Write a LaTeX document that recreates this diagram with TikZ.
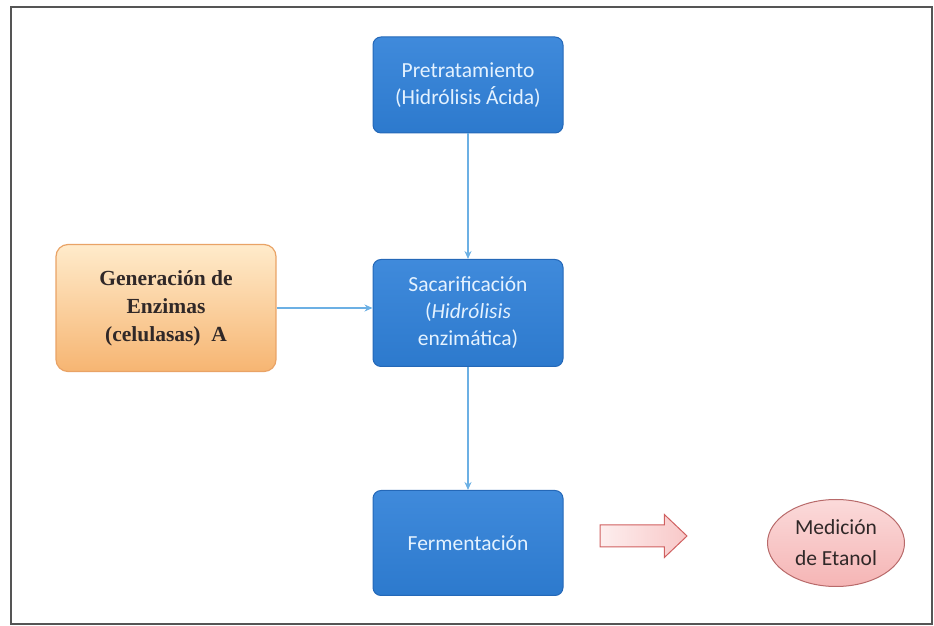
\documentclass[tikz,border=0pt]{standalone}
\usepackage{fontspec}
\setmainfont{Carlito}
\newfontfamily\timesbold{Liberation Serif}
\usetikzlibrary{arrows.meta,shapes.arrows,shapes.geometric,calc}
\definecolor{boxblue}{HTML}{2F80D8}
\definecolor{boxedge}{HTML}{2468B8}
\definecolor{boxtext}{HTML}{E4F2FF}
\definecolor{linkblue}{HTML}{6CB0E4}
\definecolor{orangetop}{HTML}{FFEBCB}
\definecolor{orangebot}{HTML}{F6B572}
\definecolor{orangeedge}{HTML}{E9A366}
\definecolor{pinktop}{HTML}{FBDADA}
\definecolor{pinkbot}{HTML}{F5B5B5}
\definecolor{pinkedge}{HTML}{B86A6A}
\definecolor{arrowedge}{HTML}{D06060}
\definecolor{arrowfill}{HTML}{FDEEEE}
\definecolor{arrowfillr}{HTML}{F8C8C8}
\definecolor{darktext}{HTML}{302828}
\definecolor{frame}{HTML}{555555}
\tikzset{
  stepbox/.style={draw=boxedge, line width=1pt, top color=boxblue!92!white, bottom color=boxblue!95!black,
    rounded corners=8pt, minimum width=190pt, align=center, text=boxtext,
    font=\fontsize{21.5}{27}\selectfont},
  genbox/.style={draw=orangeedge, line width=1.2pt, top color=orangetop, bottom color=orangebot,
    rounded corners=12pt, minimum width=220pt, minimum height=127pt,
    align=center, text=darktext, font=\timesbold\bfseries\fontsize{21.5}{28}\selectfont},
  medbox/.style={ellipse, draw=pinkedge, line width=1pt, top color=pinktop, bottom color=pinkbot,
    minimum width=137pt, minimum height=87pt, inner sep=0pt, align=center, text=darktext,
    font=\fontsize{21.5}{31}\selectfont},
  bigarrow/.style={single arrow, draw=arrowedge, line width=1pt, left color=arrowfill, right color=arrowfillr,
    inner xsep=0pt, inner ysep=10.5pt, minimum height=87pt, single arrow head extend=10.5pt,
    single arrow tip angle=87, outer sep=0pt},
  link/.style={draw=linkblue, line width=1.3pt, -{Stealth[length=8pt,width=7pt,open]}},
}
\begin{document}
\begin{tikzpicture}[x=1pt,y=1pt]
\useasboundingbox (0,0) rectangle (934,626);
\draw[frame, line width=1.8pt] (11,619) rectangle (932,2);
\node[stepbox, minimum height=96pt] (pre) at (468,541) {Pretratamiento\\(Hidrólisis Ácida)};
\node[stepbox, minimum height=107pt] (sac) at (468,313) {Sacarificación\\(\textit{Hidrólisis}\\enzimática)};
\node[stepbox, minimum height=105pt] (fer) at (468,83) {Fermentación};
\node[genbox] (gen) at (166,318) {Generación de\\Enzimas\\(celulasas)\ \ A};
\node[bigarrow, anchor=tail] (arr) at (600,90) {};
\node[medbox] (med) at (836,83) {Medición\\de Etanol};
\draw[link] (pre.south) -- (sac.north);
\draw[link] (sac.south) -- (fer.north);
\draw[link] (gen.east) -- (gen.east -| sac.west);
\end{tikzpicture}
\end{document}
